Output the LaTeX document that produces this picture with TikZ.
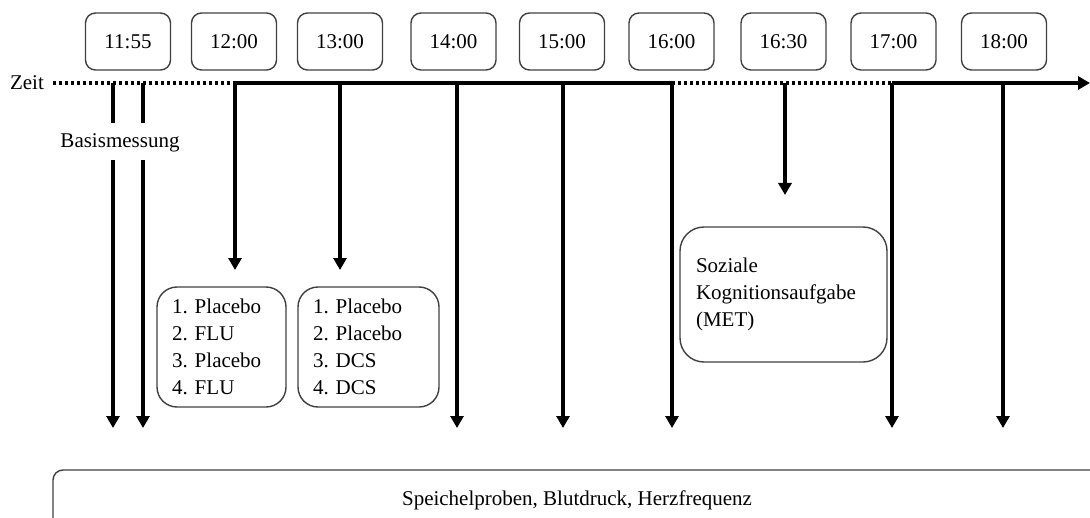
\documentclass[tikz,border=0pt]{standalone}
\usepackage{fontspec}
\setmainfont{Liberation Serif}
\usetikzlibrary{arrows.meta}
\frenchspacing
\begin{document}
\begin{tikzpicture}[x=0.5pt,y=-0.5pt,every node/.style={font=\fontsize{10.5}{13.5}\selectfont}]
		\tikzset{uhr/.style = {draw=black!75, line width=0.7pt, rounded corners=5pt, minimum width=42.5pt, minimum height=28.5pt, inner sep=0pt}}
		\tikzset{kasten/.style = {draw=black!75, line width=0.7pt, rounded corners=10pt, inner sep=0pt, align=left}}
		\tikzset{zeit/.style = {line width=2pt}}
		\tikzset{punkte/.style = {line width=2pt, dash pattern=on 1.7pt off 1.3pt}}
		\tikzset{edge/.style = {line width=2pt, -{Triangle[width=6.5pt,length=6pt]}}}
		
		\useasboundingbox (0,0) rectangle (1090,518);
		\clip (0,0) rectangle (1090,518);
		
		\node[uhr] (t1155) at ( 128, 41.5) {11:55};
		\node[uhr] (t1200) at ( 234, 41.5) {12:00};
		\node[uhr] (t1300) at ( 340, 41.5) {13:00};
		\node[uhr] (t1400) at (453.5,41.5) {14:00};
		\node[uhr] (t1500) at ( 562, 41.5) {15:00};
		\node[uhr] (t1600) at (671.5,41.5) {16:00};
		\node[uhr] (t1630) at (783.5,41.5) {16:30};
		\node[uhr] (t1700) at (893.5,41.5) {17:00};
		\node[uhr] (t1800) at (1004, 41.5) {18:00};
		
		\node (zeit) at (27, 83) {Zeit};
		\node (basis) at (120, 143) {Basismessung};
		
		\node[kasten, minimum width=64.5pt, minimum height=60pt, text width=49.5pt] (med1) at (221.5, 347) {1. Placebo\\2. FLU\\3. Placebo\\4. FLU};
		\node[kasten, minimum width=70.5pt, minimum height=60pt, text width=55.5pt] (med2) at (368.5, 347) {1. Placebo\\2. Placebo\\3. DCS\\4. DCS};
		\node[kasten, rounded corners=12pt, minimum width=103.5pt, minimum height=67.5pt, text width=87.5pt] (met) at (783.5, 294.5) {Soziale\\Kognitionsaufgabe\\(MET)};
		\node[kasten, rounded corners=5pt, minimum width=524pt, minimum height=30pt] (proben) at (577, 500) {Speichelproben, Blutdruck, Herzfrequenz};
		
		\coordinate (a0) at (53, 83);
		\coordinate (z1) at (113, 83);
		\coordinate (z2) at (143, 83);
		\coordinate (z1200) at (235, 83);
		\coordinate (z1300) at (340, 83);
		\coordinate (z1400) at (457, 83);
		\coordinate (z1500) at (563, 83);
		\coordinate (z1600) at (672, 83);
		\coordinate (z1630) at (785, 83);
		\coordinate (z1700) at (892, 83);
		\coordinate (z1800) at (1003, 83);
		\coordinate (a1) at (1090, 83);
		
		\coordinate (g1) at (113, 123);
		\coordinate (g2) at (143, 123);
		\coordinate (h1) at (113, 160);
		\coordinate (h2) at (143, 160);
		
		\coordinate (e1) at (113, 428);
		\coordinate (e2) at (143, 428);
		\coordinate (e1200) at (235, 270);
		\coordinate (e1300) at (340, 270);
		\coordinate (e1400) at (457, 428);
		\coordinate (e1500) at (563, 428);
		\coordinate (e1600) at (672, 428);
		\coordinate (e1630) at (785, 195);
		\coordinate (e1700) at (892, 428);
		\coordinate (e1800) at (1003, 428);
		
		\draw[punkte] (a0) to (z1200);
		\draw[zeit] (z1200) to (z1600);
		\draw[punkte] (z1600) to (z1700);
		\draw[edge] (z1700) to (a1);
		
		\draw[zeit] (z1) to (g1);
		\draw[zeit] (z2) to (g2);
		\draw[edge] (h1) to (e1);
		\draw[edge] (h2) to (e2);
		\draw[edge] (z1200) to (e1200);
		\draw[edge] (z1300) to (e1300);
		\draw[edge] (z1400) to (e1400);
		\draw[edge] (z1500) to (e1500);
		\draw[edge] (z1600) to (e1600);
		\draw[edge] (z1630) to (e1630);
		\draw[edge] (z1700) to (e1700);
		\draw[edge] (z1800) to (e1800);
		\end{tikzpicture}
\end{document}
